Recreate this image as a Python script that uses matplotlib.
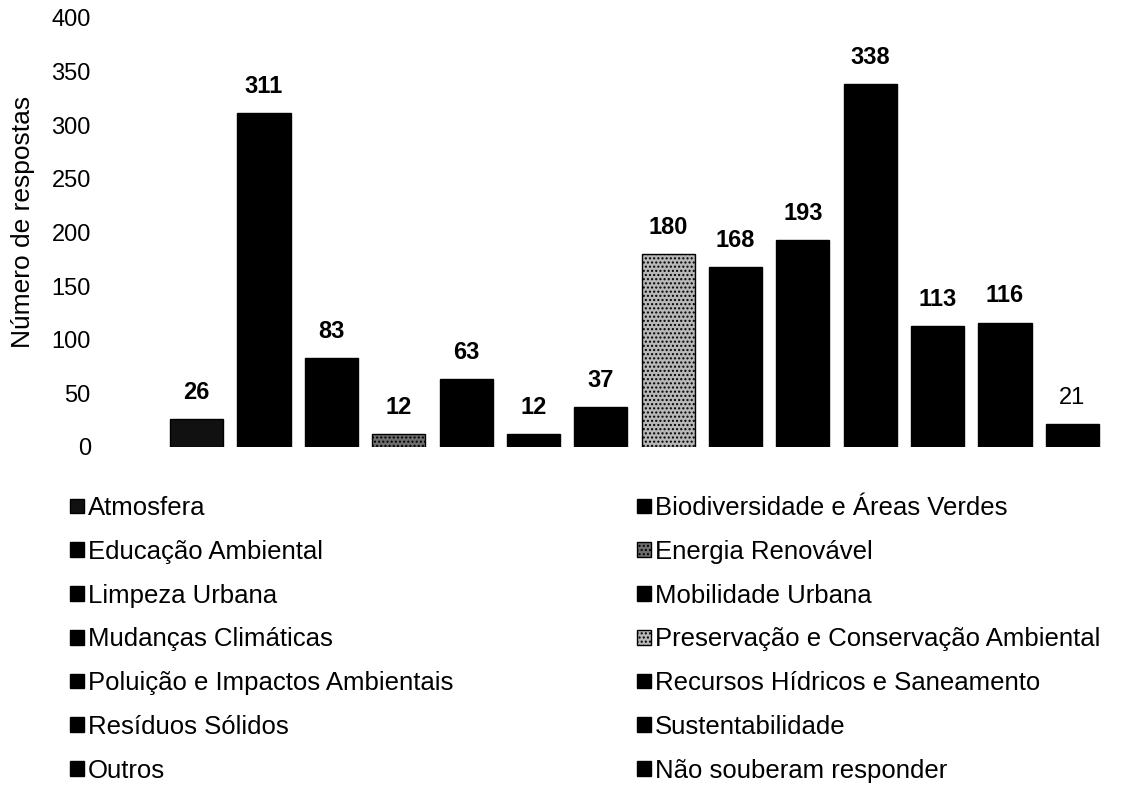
import matplotlib
matplotlib.use("Agg")
import matplotlib.pyplot as plt

plt.rcParams['font.family'] = ['Liberation Sans', 'DejaVu Sans']

categories = ["Atmosfera", "Biodiversidade e Áreas Verdes", "Educação Ambiental",
              "Energia Renovável", "Limpeza Urbana", "Mobilidade Urbana",
              "Mudanças Climáticas", "Preservação e Conservação Ambiental",
              "Poluição e Impactos Ambientais", "Recursos Hídricos e Saneamento",
              "Resíduos Sólidos", "Sustentabilidade", "Outros",
              "Não souberam responder"]
values = [26, 311, 83, 12, 63, 12, 37, 180, 168, 193, 338, 113, 116, 21]
yticks = [0, 50, 100, 150, 200, 250, 300, 350, 400]

W, H = 1125, 787
fig = plt.figure(figsize=(W / 100, H / 100), dpi=100)
ax = fig.add_axes([163 / W, 1 - 447 / H, 943 / W, 429 / H])

face = ['black'] * len(values)
hatch = [None] * len(values)
face[3] = '#6e6e6e'; hatch[3] = '....'
face[7] = '#b8b8b8'; hatch[7] = '....'
face[0] = '#111111'

x = list(range(len(values)))
bars = []
for i, v in enumerate(values):
    b = ax.bar(x[i], v, width=0.79, color=face[i], edgecolor='black',
               linewidth=1.0, hatch=hatch[i], label=categories[i])
    bars.append(b[0])

for i, v in enumerate(values):
    ax.annotate(str(v), (x[i], v), xytext=(0, 11), textcoords='offset points',
                ha='center', va='bottom', fontsize=17,
                fontweight='normal' if i == len(values) - 1 else 'bold')

ax.set_xlim(-0.5, len(values) - 0.5)
ax.set_ylim(0, 400)
ax.set_yticks(yticks)
ax.set_yticklabels([str(t) for t in yticks], fontsize=17)
ax.tick_params(axis='y', length=0, pad=52)
ax.set_xticks([])
for s in ax.spines.values():
    s.set_visible(False)
ax.set_ylabel("Número de respostas", fontsize=19)
ax.yaxis.set_label_coords(-0.136, 0.524)

order = [0, 2, 4, 6, 8, 10, 12, 1, 3, 5, 7, 9, 11, 13]
fig.legend([bars[i] for i in order], [categories[i] for i in order],
           ncol=2, loc='upper left', bbox_to_anchor=(70 / W, 1 - 496 / H),
           frameon=False, fontsize=18.5, handlelength=0.55, handleheight=0.5,
           handletextpad=0.15, labelspacing=0.77, columnspacing=7.15,
           borderpad=0, borderaxespad=0)

fig.savefig("out.png", dpi=100)
